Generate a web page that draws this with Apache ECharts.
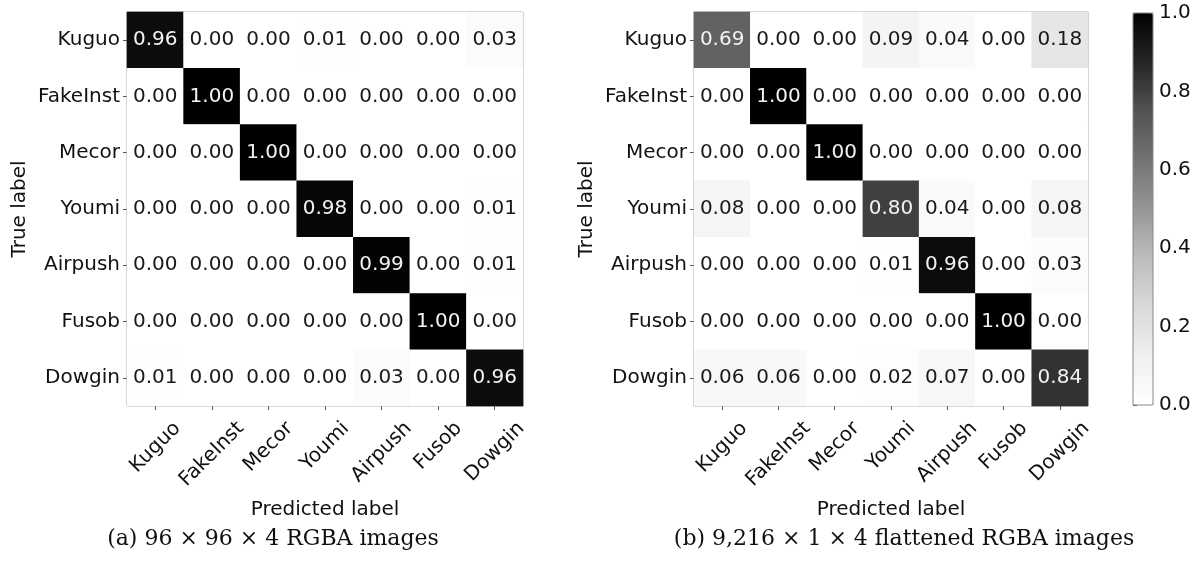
<!DOCTYPE html>
<html>
<head>
<meta charset="utf-8">
<script src="https://cdn.jsdelivr.net/npm/echarts@6/dist/echarts.min.js"></script>
<style>
html,body{margin:0;padding:0;background:#fff;}
#c{width:1197px;height:562px;}
</style>
</head>
<body>
<div id="c"></div>
<script>
var categories = ['Kuguo','FakeInst','Mecor','Youmi','Airpush','Fusob','Dowgin'];
var matrixA = [
  [0.96,0.00,0.00,0.01,0.00,0.00,0.03],
  [0.00,1.00,0.00,0.00,0.00,0.00,0.00],
  [0.00,0.00,1.00,0.00,0.00,0.00,0.00],
  [0.00,0.00,0.00,0.98,0.00,0.00,0.01],
  [0.00,0.00,0.00,0.00,0.99,0.00,0.01],
  [0.00,0.00,0.00,0.00,0.00,1.00,0.00],
  [0.01,0.00,0.00,0.00,0.03,0.00,0.96]
];
var matrixB = [
  [0.69,0.00,0.00,0.09,0.04,0.00,0.18],
  [0.00,1.00,0.00,0.00,0.00,0.00,0.00],
  [0.00,0.00,1.00,0.00,0.00,0.00,0.00],
  [0.08,0.00,0.00,0.80,0.04,0.00,0.08],
  [0.00,0.00,0.00,0.01,0.96,0.00,0.03],
  [0.00,0.00,0.00,0.00,0.00,1.00,0.00],
  [0.06,0.06,0.00,0.02,0.07,0.00,0.84]
];
var colorbarTicks = [0, 0.2, 0.4, 0.6, 0.8, 1.0];
var captionA = '(a) 96 \u00d7 96 \u00d7 4 RGBA images';
var captionB = '(b) 9,216 \u00d7 1 \u00d7 4 flattened RGBA images';
var xName = 'Predicted label';
var yName = 'True label';

var greys = ['#ffffff','#f0f0f0','#d9d9d9','#bdbdbd','#969696','#737373','#525252','#252525','#000000'];
var FONT = 'DejaVu Sans';
var FS = 20;

// Rotated x labels, centred under each tick with their top at a fixed distance (matplotlib style)
var cv = document.createElement('canvas').getContext('2d');
cv.font = FS + 'px "DejaVu Sans"';
var LABEL_MARGIN = 30;
var rich = {};
categories.forEach(function(c, i){
  var L = cv.measureText(c).width;
  var s = 14 + 0.354 * (L + 15) - LABEL_MARGIN;
  if (s < 0) s = 0;
  var p = Math.round(s * 1.414 * 10) / 10;
  rich['p' + i] = {padding:[p, p, 0, 0], fontSize:FS, fontFamily:FONT, color:'#111'};
});

function toData(m){
  var out = [];
  for (var r = 0; r < m.length; r++) {
    for (var c = 0; c < m[r].length; c++) {
      var v = m[r][c];
      out.push({value:[c, r, v], label:{color: v > 0.5 ? '#f2f2f2' : '#1a1a1a'}});
    }
  }
  return out;
}

function xAxisFor(idx){
  return {
    type:'category', data:categories, gridIndex:idx, position:'bottom',
    axisLine:{show:false},
    axisTick:{show:true, alignWithLabel:true, length:4, lineStyle:{color:'#555'}},
    axisLabel:{rotate:45, align:'center', verticalAlign:'middle', margin:LABEL_MARGIN,
      fontSize:FS, color:'#111', fontFamily:FONT, rich:rich,
      formatter:function(v, i){ return '{p' + i + '|' + v + '}'; }},
    splitLine:{show:false},
    name:xName, nameLocation:'middle', nameGap:94,
    nameTextStyle:{fontSize:FS, color:'#111', fontFamily:FONT}
  };
}
function yAxisFor(idx){
  return {
    type:'category', data:categories, gridIndex:idx, inverse:true,
    axisLine:{show:false},
    axisTick:{show:true, alignWithLabel:true, length:4, lineStyle:{color:'#555'}},
    axisLabel:{fontSize:FS, color:'#111', fontFamily:FONT, margin:7},
    splitLine:{show:false},
    name:yName, nameLocation:'middle', nameGap:97, nameRotate:90,
    nameTextStyle:{fontSize:FS, color:'#111', fontFamily:FONT}
  };
}

var chart = echarts.init(document.getElementById('c'));
chart.setOption({
  animation:false,
  backgroundColor:'#ffffff',
  title:[
    {text:captionA, left:268, top:523, textAlign:'center',
     textStyle:{fontFamily:'DejaVu Serif', fontSize:22, fontWeight:'normal', color:'#111'}},
    {text:captionB, left:899, top:523, textAlign:'center',
     textStyle:{fontFamily:'DejaVu Serif', fontSize:22, fontWeight:'normal', color:'#111'}}
  ],
  grid:[
    {left:127, top:12, width:396, height:394, show:true, borderColor:'#999', borderWidth:1, backgroundColor:'#fff'},
    {left:694, top:12, width:394, height:394, show:true, borderColor:'#999', borderWidth:1, backgroundColor:'#fff'},
    {left:1133, top:13, width:20, height:392, show:true, borderColor:'#888', borderWidth:1, backgroundColor:'transparent', z:10}
  ],
  xAxis:[
    xAxisFor(0), xAxisFor(1),
    {type:'value', gridIndex:2, show:false, min:0, max:1}
  ],
  yAxis:[
    yAxisFor(0), yAxisFor(1),
    {type:'value', gridIndex:2, position:'right', min:0, max:1, interval:0.2,
     axisLine:{show:false},
     axisTick:{show:true, length:4, lineStyle:{color:'#555'}},
     splitLine:{show:false},
     axisLabel:{fontSize:FS, color:'#111', fontFamily:FONT, margin:6,
       formatter:function(v){ return colorbarTicks.indexOf(Math.round(v*10)/10) >= 0 ? v.toFixed(1) : ''; }}}
  ],
  visualMap:{
    type:'continuous', min:0, max:1, calculable:false, orient:'vertical',
    left:1133, top:13, itemWidth:20, itemHeight:392, padding:0,
    text:null, showLabel:false, seriesIndex:[0,1],
    inRange:{color:greys}, hoverLink:false
  },
  series:[
    {type:'heatmap', xAxisIndex:0, yAxisIndex:0, data:toData(matrixA),
     label:{show:true, fontSize:FS, fontFamily:FONT, formatter:function(p){return p.value[2].toFixed(2);}},
     itemStyle:{borderWidth:0}, emphasis:{disabled:true}},
    {type:'heatmap', xAxisIndex:1, yAxisIndex:1, data:toData(matrixB),
     label:{show:true, fontSize:FS, fontFamily:FONT, formatter:function(p){return p.value[2].toFixed(2);}},
     itemStyle:{borderWidth:0}, emphasis:{disabled:true}}
  ]
});
</script>
</body>
</html>
